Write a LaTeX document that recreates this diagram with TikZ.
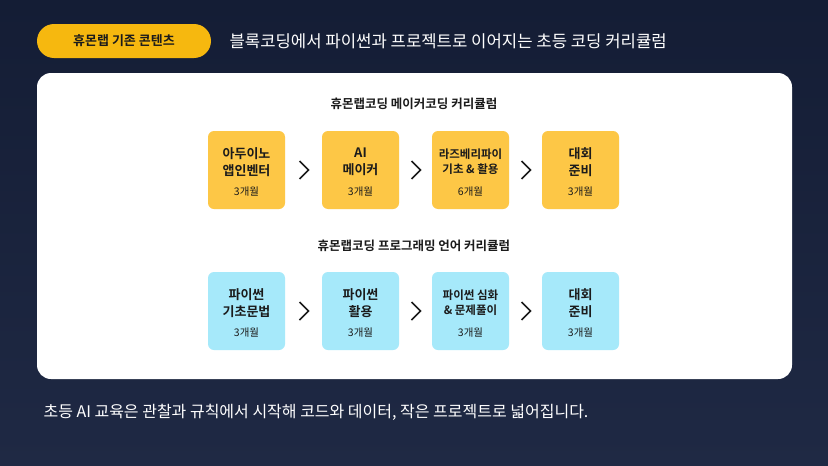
\documentclass[tikz,border=0pt]{standalone}
\usepackage{fontspec}
\setmainfont{Noto Sans CJK KR}
\newfontfamily\krbold{Noto Sans CJK KR Bold}
\usetikzlibrary{positioning,calc}
\definecolor{navytop}{HTML}{141D35}
\definecolor{navybot}{HTML}{1F2944}
\definecolor{pillyellow}{HTML}{F6B80F}
\definecolor{makerfill}{HTML}{FDC746}
\definecolor{pyfill}{HTML}{A6E9FA}
\definecolor{darktext}{HTML}{1B1B1B}
\tikzset{
  course/.style={rounded corners=6pt,minimum width=77pt,minimum height=78pt,
                 inner sep=0pt},
  maker/.style={course,fill=makerfill},
  python/.style={course,fill=pyfill},
  chev/.style={line width=1.5pt,darktext},
  boxtext/.style={font=\krbold\fontsize{13}{17}\selectfont,align=center,text=darktext},
  months/.style={font=\fontsize{10.5}{12}\selectfont,text=darktext},
  rowtitle/.style={font=\krbold\fontsize{12.5}{14}\selectfont,text=darktext}
}
\begin{document}
\begin{tikzpicture}[x=1pt,y=-1pt,node distance=37pt]
  \shade[top color=navytop,bottom color=navybot] (0,0) rectangle (828,466);
  \useasboundingbox (0,0) rectangle (828,466);

  \node[fill=pillyellow,rounded corners=17pt,minimum width=174pt,minimum height=34pt,
        font=\krbold\fontsize{13}{14}\selectfont,text=darktext] (pill) at (124,41) {휴몬랩 기존 콘텐츠};
  \node[anchor=west,text=white,font=\fontsize{16.7}{18}\selectfont] (head) at (226,41)
        {블록코딩에서 파이썬과 프로젝트로 이어지는 초등 코딩 커리큘럼};

  \fill[white,rounded corners=14pt] (37,73) rectangle (792,379);

  \node[rowtitle] (t1) at (414,104) {휴몬랩코딩 메이커코딩 커리큘럼};
  \node[maker] (m1) at (246.5,170) {};
  \node[maker] (m2) at (360.5,170) {};
  \node[maker] (m3) at (470.5,170) {};
  \node[maker] (m4) at (580.5,170) {};

  \node[rowtitle] (t2) at (414,246) {휴몬랩코딩 프로그래밍 언어 커리큘럼};
  \node[python] (p1) at (246.5,311) {};
  \node[python] (p2) at (360.5,311) {};
  \node[python] (p3) at (470.5,311) {};
  \node[python] (p4) at (580.5,311) {};

  % box texts
  \foreach \n/\a/\b/\m in {m1/아두이노/앱인벤터/3개월, m2/AI/메이커/3개월,
                           p1/파이썬/기초문법/3개월, p2/파이썬/활용/3개월,
                           m4/대회/준비/3개월, p4/대회/준비/3개월}{
    \node[boxtext] at ([yshift=8pt]\n.center) {\a\\\b};
    \node[months] at ([yshift=-22pt]\n.center) {\m};
  }
  \node[boxtext,font=\krbold\fontsize{11.5}{15}\selectfont] at ([yshift=8pt]m3.center) {라즈베리파이\\기초 \& 활용};
  \node[months] at ([yshift=-22pt]m3.center) {6개월};
  \node[boxtext,font=\krbold\fontsize{11.5}{15}\selectfont] at ([yshift=8pt]p3.center) {파이썬 심화\\\& 문제풀이};
  \node[months] at ([yshift=-22pt]p3.center) {3개월};

  % chevrons between boxes
  \foreach \l/\r in {m1/m2,m2/m3,m3/m4,p1/p2,p2/p3,p3/p4}{
    \coordinate (c) at ($(\l.east)!0.5!(\r.west)$);
    \draw[chev] ([xshift=-4pt,yshift=-9pt]c) -- ([xshift=5pt]c) -- ([xshift=-4pt,yshift=9pt]c);
  }

  \node[anchor=west,text=white,font=\fontsize{16}{17}\selectfont] (foot) at (40,412)
        {초등 AI 교육은 관찰과 규칙에서 시작해 코드와 데이터, 작은 프로젝트로 넓어집니다.};
\end{tikzpicture}
\end{document}
